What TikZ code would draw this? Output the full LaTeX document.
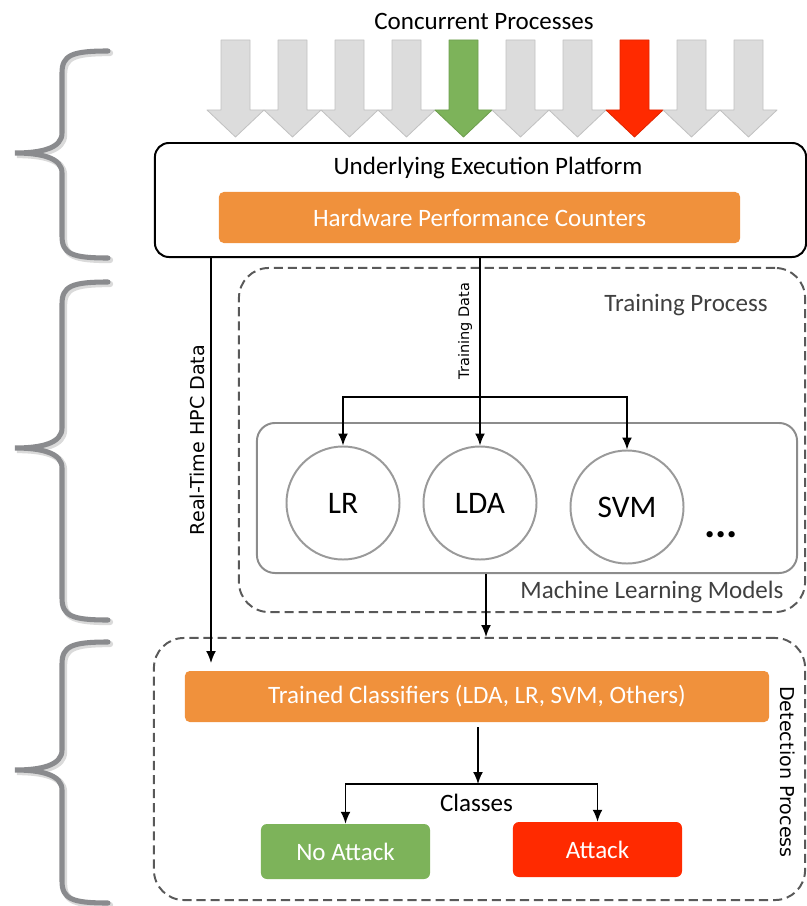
\documentclass[tikz,border=0pt]{standalone}
\usepackage{fontspec}
\setmainfont{Carlito}
\newfontfamily\sidefont{DejaVu Sans}
\usetikzlibrary{arrows.meta,positioning,calc}
\definecolor{Orange}{HTML}{F0913C}
\definecolor{Benign}{HTML}{7DB35A}
\definecolor{Malicious}{HTML}{FF2A00}
\definecolor{Idle}{HTML}{DCDCDC}
\definecolor{BraceGray}{HTML}{8A8B8E}
\definecolor{BraceShade}{HTML}{DADADA}
\definecolor{DashGray}{HTML}{595959}
\definecolor{ModelEdge}{HTML}{8C8C8C}
\definecolor{CircleEdge}{HTML}{9A9A9A}
\definecolor{Label}{HTML}{404040}
\tikzset{
  txt/.style={font=\fontsize{17.8}{21}\selectfont,inner sep=0pt},
  sidelabel/.style={font=\sidefont\fontsize{13.6}{16}\selectfont,inner sep=0pt},
  platbox/.style={draw=black,line width=1.4pt,rounded corners=.35cm,minimum width=16.275cm,minimum height=2.85cm},
  orangebox/.style={fill=Orange,text=white,rounded corners=.12cm,minimum height=1.275cm,font=\fontsize{17.8}{21}\selectfont},
  dashbox/.style={draw=DashGray,line width=1.4pt,dash pattern=on 6.5pt off 3.5pt,rounded corners=.75cm},
  modelbox/.style={draw=ModelEdge,line width=1.4pt,rounded corners=.45cm,minimum width=13.5cm,minimum height=3.75cm},
  model/.style={circle,draw=CircleEdge,line width=1.4pt,minimum size=2.825cm,inner sep=0pt,font=\fontsize{22.3}{26}\selectfont},
  classbox/.style={text=white,rounded corners=.15cm,minimum width=4.225cm,minimum height=1.375cm,font=\fontsize{17.8}{21}\selectfont},
  flow/.style={-{Latex[length=8.5pt,width=7pt]},draw=black,line width=1.1pt},
  fork/.style={{Latex[length=8.5pt,width=7pt]}-{Latex[length=8.5pt,width=7pt]},draw=black,line width=1.1pt},
  brace/.style={draw=BraceGray,line width=3.6pt,line cap=round},
  braceshade/.style={draw=BraceShade,line width=4.5pt,line cap=round}
}
\begin{document}
\begin{tikzpicture}[x=0.025cm,y=-0.025cm]
  \useasboundingbox (0,0) rectangle (807,906);

  % side braces
  \foreach \T/\M/\B in {51/153/258, 282/448/620, 642/770/903}{
    \foreach \s/\d in {braceshade/2, brace/0}
      \draw[\s] (108+\d,\T+\d) .. controls (72+\d,\T+\d) and (62+\d,\T+4+\d) .. (62+\d,\T+22+\d)
        -- (62+\d,\M-20+\d) .. controls (62+\d,\M-5+\d) and (42+\d,\M+\d) .. (15+\d,\M+\d)
        .. controls (42+\d,\M+\d) and (62+\d,\M+5+\d) .. (62+\d,\M+20+\d)
        -- (62+\d,\B-22+\d) .. controls (62+\d,\B-4+\d) and (72+\d,\B+\d) .. (108+\d,\B+\d);
  }

  % concurrent processes
  \node[txt] (title) at (484,21) {Concurrent Processes};
  \foreach \i/\c in {0/Idle,1/Idle,2/Idle,3/Idle,4/Benign,5/Idle,6/Idle,7/Malicious,8/Idle,9/Idle}{
    \pgfmathsetmacro\cx{235.5+57*\i}
    \draw[fill=\c,draw=\c!88!black,line width=.6pt,line join=round]
      (\cx-14.5,40) -- (\cx+14.5,40) -- (\cx+14.5,110) -- (\cx+28.5,110) -- (\cx,137)
      -- (\cx-28.5,110) -- (\cx-14.5,110) -- cycle;
  }

  % platform
  \node[platbox] (platform) at (480.5,200) {};
  \node[txt] (platlabel) at (488,168) {Underlying Execution Platform};
  \node[orangebox,minimum width=13.025cm] (hpc) at (479.5,217.5) {Hardware Performance Counters};

  % training
  \node[dashbox,minimum width=14.15cm,minimum height=8.6cm] (training) at (522,440) {};
  \node[txt,text=Label] (trainlabel) at (686,305) {Training Process};
  \node[modelbox] (models) at (527,498) {};
  \node[model] (lr) at (343,503) {LR};
  \node[model] (lda) at (480,503) {LDA};
  \node[model] (svm) at (627,507) {SVM};
  \node[font=\bfseries\fontsize{30}{30}\selectfont,inner sep=0pt] (more) at (721,535) {...};
  \node[txt,text=Label] (mllabel) at (652,592) {Machine Learning Models};

  % detection
  \node[dashbox,minimum width=16.275cm,minimum height=6.55cm] (detect) at (479.5,769) {};
  \node[orangebox,minimum width=14.6cm] (classif) at (477,696.5) {Trained Classifiers (LDA, LR, SVM, Others)};
  \node[txt] (classes) at (476.5,803) {Classes};
  \node[classbox,fill=Benign] (noatk) at (345.5,851.5) {No Attack};
  \node[classbox,fill=Malicious] (atk) at (597.5,849.5) {Attack};
  \node[sidelabel,rotate=-90] (detlabel) at (788,772) {Detection Process};

  % data paths
  \coordinate (rtend) at (211,663);
  \draw[flow] (platform.south -| rtend) -- (rtend);
  \node[sidelabel,rotate=90] (rtlabel) at (197,440) {Real-Time HPC Data};
  \draw[flow] (platform.south -| lda) -- (lda.north);
  \node[sidelabel,font=\sidefont\fontsize{10.3}{12}\selectfont,rotate=90] (tdlabel) at (465,331) {Training Data};
  \coordinate (tsplit) at (480,397);
  \draw[fork] (lr.north) |- (tsplit) -| (svm.north);
  \coordinate (mlout) at (486,573);
  \draw[flow] (models.south -| mlout) -- (detect.north -| mlout);
  \coordinate (csplit) at (478,784);
  \draw[flow,shorten <=.12cm] (classif.south -| csplit) -- (csplit);
  \draw[fork] (noatk.north) |- (csplit) -| (atk.north);
\end{tikzpicture}
\end{document}
